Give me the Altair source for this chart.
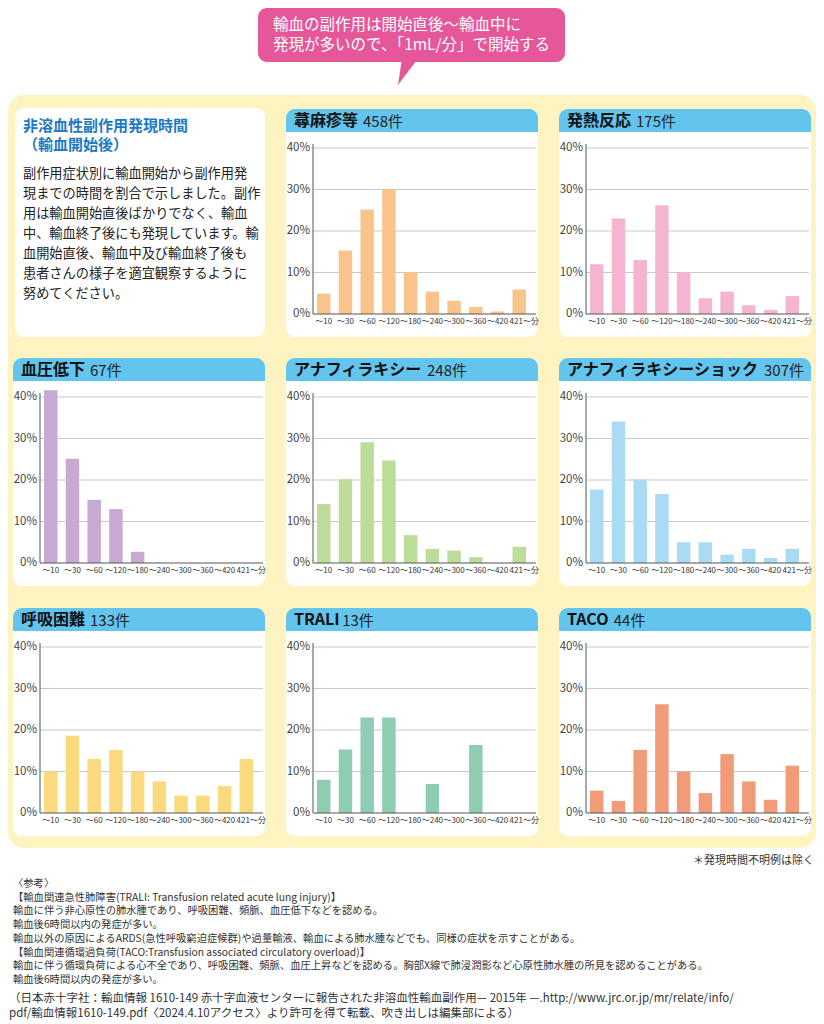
import altair as alt
import pandas as pd

# ---------------- data ----------------
cats = ["〜10", "〜30", "〜60", "〜120", "〜180", "〜240", "〜300", "〜360", "〜420", "421〜分"]
titles = ["蕁麻疹等", "発熱反応", "血圧低下", "アナフィラキシー", "アナフィラキシーショック",
          "呼吸困難", "TRALI", "TACO"]
counts = ["458件", "175件", "67件", "248件", "307件", "133件", "13件", "44件"]
bar_colors = ["#f9c48c", "#f5b5d0", "#c7aad4", "#bddc9a", "#a9dcf4", "#fbd97e", "#8fcdb2", "#f29b78"]

v_urticaria = [4.9, 15.3, 25.2, 30.1, 10.1, 5.4, 3.2, 1.7, 0.6, 5.9]
v_fever = [12.0, 23.0, 13.0, 26.2, 10.0, 3.8, 5.4, 2.1, 1.0, 4.3]
v_hypotension = [41.6, 25.1, 15.2, 13.0, 2.7, 0, 0, 0, 0, 0]
v_anaphylaxis = [14.2, 20.2, 29.1, 24.7, 6.7, 3.4, 3.0, 1.4, 0, 3.9]
v_shock = [17.7, 34.1, 20.1, 16.6, 5.0, 5.0, 2.0, 3.4, 1.2, 3.4]
v_dyspnea = [10.0, 18.6, 13.0, 15.2, 10.0, 7.6, 4.2, 4.2, 6.5, 13.0]
v_trali = [8.0, 15.3, 23.0, 23.0, 0, 7.0, 0, 16.4, 0, 0]
v_taco = [5.4, 2.9, 15.2, 26.2, 10.0, 4.8, 14.2, 7.6, 3.2, 11.4]
series = [v_urticaria, v_fever, v_hypotension, v_anaphylaxis, v_shock, v_dyspnea, v_trali, v_taco]

y_ticks = [0, 10, 20, 30, 40]
y_tick_labels = ["0%", "10%", "20%", "30%", "40%"]

callout_lines = ["輸血の副作用は開始直後〜輸血中に", "発現が多いので、「1mL/分」で開始する"]
panel_title_lines = ["非溶血性副作用発現時間", "（輸血開始後）"]
panel_body_lines = [
    "副作用症状別に輸血開始から副作用発",
    "現までの時間を割合で示しました。副作",
    "用は輸血開始直後ばかりでなく、輸血",
    "中、輸血終了後にも発現しています。輸",
    "血開始直後、輸血中及び輸血終了後も",
    "患者さんの様子を適宜観察するように",
    "努めてください。",
]
note_text = "＊発現時間不明例は除く"
ref_lines = [
    "〈参考〉",
    "【輸血関連急性肺障害(TRALI: Transfusion related acute lung injury)】",
    "輸血に伴う非心原性の肺水腫であり、呼吸困難、頻脈、血圧低下などを認める。",
    "輸血後6時間以内の発症が多い。",
    "輸血以外の原因によるARDS(急性呼吸窮迫症候群)や過量輸液、輸血による肺水腫などでも、同様の症状を示すことがある。",
    "【輸血関連循環過負荷(TACO:Transfusion associated circulatory overload)】",
    "輸血に伴う循環負荷による心不全であり、呼吸困難、頻脈、血圧上昇などを認める。胸部X線で肺浸潤影など心原性肺水腫の所見を認めることがある。",
    "輸血後6時間以内の発症が多い。",
]
citation_lines = [
    "（日本赤十字社：輸血情報 1610-149 赤十字血液センターに報告された非溶血性輸血副作用— 2015年 —.http://www.jrc.or.jp/mr/relate/info/",
    "pdf/輸血情報1610-149.pdf〈2024.4.10アクセス〉より許可を得て転載、吹き出しは編集部による）",
]

# ---------------- style / layout ----------------
FONT = "Noto Sans CJK JP"
NARROW = "Liberation Sans Narrow, Noto Sans CJK JP"
YELLOW = "#fdf4c1"
BLUE_HDR = "#63c5ee"
PINK = "#e6579a"
CANVAS_W = 808
COL_W = [268, 273, 267]
ROW_H = [253, 249, 251]
PANEL_X = [5, 10, 10]
PANEL_Y = [14, 10, 11]
PW, PH = 252, 228
ONE = pd.DataFrame({"k": [0]})

CAP_W = {"T": 0.58, "R": 0.64, "A": 0.66, "L": 0.53, "I": 0.29, "C": 0.63, "O": 0.74}


def est_width(s, fs):
    w = 0
    for ch in s:
        if ord(ch) > 0x2E80:
            w += fs
        else:
            w += CAP_W.get(ch, 0.6) * fs
    return w


def rect(x, x2, y, y2, color, **kw):
    return alt.Chart(ONE).mark_rect(color=color, **kw).encode(
        x=alt.value(x), x2=alt.value(x2), y=alt.value(y), y2=alt.value(y2))


def label(text, x, y, **kw):
    base = dict(align="left", baseline="middle", font=FONT)
    base.update(kw)
    return alt.Chart(pd.DataFrame({"t": [text]})).mark_text(**base).encode(
        x=alt.value(x), y=alt.value(y), text="t:N")


def yellow(ci, ri, W, H):
    R = 16
    kw = {}
    if ri == 0 and ci == 0:
        kw["cornerRadiusTopLeft"] = R
    if ri == 0 and ci == 2:
        kw["cornerRadiusTopRight"] = R
    if ri == 2 and ci == 0:
        kw["cornerRadiusBottomLeft"] = R
    if ri == 2 and ci == 2:
        kw["cornerRadiusBottomRight"] = R
    return rect(0, W, 0, H, YELLOW, **kw)


def chart_cell(k, ci, ri):
    W, H = COL_W[ci], ROW_H[ri]
    px, py = PANEL_X[ci], PANEL_Y[ri]
    ax = px + 27
    y0, y40 = py + 205, py + 39
    xs = alt.Scale(domain=cats, range=[px + 31, px + 240], paddingInner=0.38, paddingOuter=0)
    ys = alt.Scale(domain=[0, 40], range=[y0, y40], nice=False)
    df = pd.DataFrame({"cat": cats, "val": series[k]})
    ticks = pd.DataFrame({"v": y_ticks, "lab": y_tick_labels})
    tw = est_width(titles[k], 16)
    lab_main = df.iloc[:-1]
    lab_last = df.iloc[-1:]
    layers = [
        yellow(ci, ri, W, H),
        rect(px, px + PW, py, py + PH, "#ffffff", cornerRadius=9),
        rect(px, px + PW, py, py + 23, BLUE_HDR, cornerRadiusTopLeft=9, cornerRadiusTopRight=9),
        label(titles[k], px + 8, py + 12, fontSize=16, fontWeight="bold", color="#111111"),
        label(counts[k], px + 8 + tw + 5, py + 12.5, fontSize=15, color="#222222"),
        alt.Chart(ticks[ticks.v > 0]).mark_rule(color="#c8c8c8", strokeWidth=1).encode(
            y=alt.Y("v:Q", scale=ys, axis=None), x=alt.value(ax), x2=alt.value(px + 250)),
        alt.Chart(df).mark_bar(color=bar_colors[k]).encode(
            x=alt.X("cat:N", scale=xs, axis=None), y=alt.Y("val:Q", scale=ys, axis=None)),
        alt.Chart(ticks[ticks.v == 0]).mark_rule(color="#555555", strokeWidth=1).encode(
            y=alt.Y("v:Q", scale=ys, axis=None), x=alt.value(ax), x2=alt.value(px + 250)),
        alt.Chart(ONE).mark_rule(color="#555555", strokeWidth=1).encode(
            x=alt.value(ax), y=alt.value(py + 35), y2=alt.value(y0)),
        alt.Chart(ticks).mark_text(align="right", baseline="middle", fontSize=11.5,
                                   color="#444444", font=NARROW).encode(
            y=alt.Y("v:Q", scale=ys, axis=None), x=alt.value(ax - 3), text="lab:N"),
        alt.Chart(lab_main).mark_text(baseline="middle", fontSize=8, color="#333333", font=NARROW).encode(
            x=alt.X("cat:N", scale=xs, axis=None), y=alt.value(py + 213), text="cat:N"),
        alt.Chart(lab_last).mark_text(baseline="middle", fontSize=8, dx=5, color="#333333", font=NARROW).encode(
            x=alt.X("cat:N", scale=xs, axis=None), y=alt.value(py + 213), text="cat:N"),
    ]
    return alt.layer(*layers).properties(width=W, height=H)


def text_cell():
    W, H = COL_W[0], ROW_H[0]
    layers = [yellow(0, 0, W, H), rect(7, 257, 13, 242, "#ffffff", cornerRadius=9)]
    for i, line in enumerate(panel_title_lines):
        layers.append(label(line, 15, 31 + 19 * i, fontSize=15, fontWeight="bold", color="#1c79c5"))
    for i, line in enumerate(panel_body_lines):
        layers.append(label(line, 15, 79 + 20 * i, fontSize=13.2, color="#222222"))
    return alt.layer(*layers).properties(width=W, height=H)


# callout
callout_layers = [
    rect(250, 557, 0, 54, PINK, cornerRadius=9),
    alt.Chart(ONE).mark_point(shape="M -0.52 -1.3 L 0.87 -1.3 L -0.87 1 Z", filled=True,
                              size=529, opacity=1, color=PINK, strokeWidth=0).encode(
        x=alt.value(400), y=alt.value(65.5)),
]
for i, line in enumerate(callout_lines):
    callout_layers.append(label(line, 265, 17 + 20 * i, fontSize=15.5, color="#ffffff"))
callout = alt.layer(*callout_layers).properties(width=CANVAS_W, height=87)

# grid
cells = [[text_cell(), chart_cell(0, 1, 0), chart_cell(1, 2, 0)],
         [chart_cell(2, 0, 1), chart_cell(3, 1, 1), chart_cell(4, 2, 1)],
         [chart_cell(5, 0, 2), chart_cell(6, 1, 2), chart_cell(7, 2, 2)]]
rows = [alt.hconcat(*r, spacing=0) for r in cells]

# footer
footer_layers = [label(note_text, 806, 13, align="right", fontSize=11, color="#333333")]
for i, line in enumerate(ref_lines):
    footer_layers.append(label(line, 5, 36 + 13.7 * i, fontSize=10.3, color="#333333"))
for i, line in enumerate(citation_lines):
    footer_layers.append(label(line, 1, 151 + 15 * i, fontSize=11.5, color="#333333"))
footer = alt.layer(*footer_layers).properties(width=CANVAS_W, height=174)

chart = alt.vconcat(callout, *rows, footer, spacing=0).properties(
    padding=0, background="#ffffff"
).configure_view(strokeWidth=0).configure_concat(spacing=0)

chart.save("out.html", embed_options={"renderer": "svg", "actions": False})
